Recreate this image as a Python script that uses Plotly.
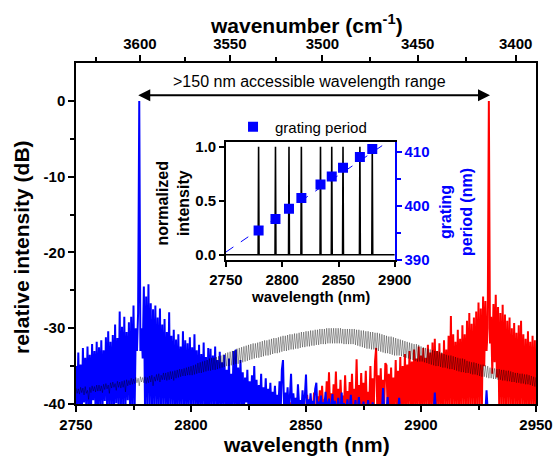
import numpy as np
import plotly.graph_objects as go

FONT = "Liberation Sans"
BLUE = "#0000FF"
RED = "#FF0000"

# ---------------- main spectrum data (dB) ----------------
STEP = 0.5
BLUE_START = 2750.0
blue_db = [
    -35.0, -41, -33.2, -40.5, -34.8, -42, -32.6, -39.8, -33.9, -41,
    -32.4, -40.2, -33.5, -41.5, -32.1, -39.5, -33.0, -40.8, -31.8, -41.2,
    -32.5, -40, -31.6, -41, -32.9, -39.6, -31.2, -40.5, -30.4, -41,
    -31.8, -40.2, -30.9, -41.4, -29.5, -39.9, -31.3, -40.6, -27.8, -41,
    -29.8, -40.3, -28.5, -41, -30.5, -39.5, -29.2, -40.8, -28.5, -41.2,
    -27.0, -40.5, -30.0, -33.0, -28.0, 0.0, -33.0, -30.0, -34.0, -24.5,
    -40.5, -25.8, -41, -24.2, -40, -26.7, -41.5, -27.5, -40.2, -27.0,
    -41, -28.6, -40.5, -27.4, -41, -29.5, -40, -28.8, -41.3, -30.5,
    -40.6, -27.9, -41, -31.0, -40, -30.2, -41.5, -31.5, -40.4, -30.8,
    -41, -32.4, -40.2, -30.4, -41, -31.6, -40.5, -32.0, -41.2, -31.2,
    -40, -32.5, -41, -30.8, -40.3, -32.9, -41, -32.2, -40.6, -33.4,
    -41, -31.9, -40.2, -33.8, -41.5, -32.6, -40.4, -32.7, -41, -33.6,
    -40, -32.4, -41.3, -34.2, -40.5, -33.1, -41, -34.5, -40.2, -33.5,
    -41, -35.5, -40.6, -34.0, -41, -36.0, -40.3, -33.0, -41, -32.8,
    -40.5, -35.2, -41, -34.2, -40, -35.8, -41.2, -36.5, -39.8, -35.5,
    -41, -37.0, -40.5, -36.2, -41, -35.0, -40.8, -36.8, -41, -37.5,
    -40.2, -36.0, -41.5, -37.8, -40, -36.6, -41, -38.0, -40.4, -37.2,
    -41, -38.4, -40.1, -37.6, -41, -38.8, -40.5, -37.0, -41, -35.5,
    -34.2, -41, -38.5, -40.3, -37.8, -41, -39.0, -36.0, -41, -38.6,
    -40.5, -39.2, -41, -37.4, -40.2, -39.5, -41, -38.2, -40.6, -39.0,
    -36.1, -41, -39.4, -40.4, -38.6, -41, -39.6, -40.2, -38.0, -37.2,
    -41, -39.7, -40.5, -38.9, -41, -39.8, -40.3, -38.4, -41, -40.0,
    -39.3, -41, -40.4, -38.7, -41, -39.6, -40.6, -41, -39.2, -40.8,
    -41, -38.5, -41, -39.9, -40.5, -41, -39.4, -41, -40.6, -38.8,
    -41, -40.3, -41, -39.5, -41, -40.7, -39.1, -41, -40.4, -41,
    -39.7, -41, -40.8, -41, -39.5, -41, -40.6, -41, -39.8, -41,
    -41,
]
blue_tail_wl = [2883, 2883.5, 2884, 2885, 2885.5, 2886, 2890, 2890.5, 2891,
                2905.5, 2906, 2906.5, 2928, 2928.5, 2929]
blue_tail_db = [-41, -37.9, -41, -41, -39.1, -41, -41, -39.2, -41,
                -41, -38.5, -41, -41, -38.2, -41]

RED_START = 2840.0
red_db = [
    -41, -41, -39.6, -41, -41, -41, -41, -39.8, -41, -41,
    -41, -41, -39.2, -41, -41, -41, -41, -39.5, -41, -41,
    -41, -38.8, -41, -41, -39.9, -41, -41, -38.5, -41, -41,
    -39.0, -41, -38.2, -41, -37.6, -41, -39.4, -41, -37.0, -40.5,
    -35.8, -41, -38.6, -41, -37.4, -40.2, -35.7, -41, -38.0, -41,
    -36.8, -40.6, -38.9, -41, -36.2, -40.3, -38.3, -41, -37.1, -40.5,
    -36.0, -41, -38.0, -40.2, -34.1, -41, -37.5, -40.6, -35.9, -41,
    -37.2, -40, -35.6, -41, -38.4, -40.4, -35.0, -41, -36.6, -40.1,
    -34.4, -32.6, -41, -36.2, -40.4, -35.3, -41, -36.8, -40.2, -34.6,
    -34.9, -41, -36.0, -40.5, -35.2, -41, -36.5, -40, -34.2, -41,
    -35.6, -40.3, -33.8, -41, -35.0, -40.6, -33.4, -41, -34.8, -40,
    -33.0, -41, -34.4, -40.4, -32.8, -41, -34.0, -40.2, -32.4, -41,
    -33.6, -40.5, -32.6, -41, -33.9, -40, -32.2, -41, -33.2, -40.4,
    -31.9, -41, -31.4, -40.2, -33.0, -41, -32.0, -40.5, -33.3, -41,
    -31.6, -40, -32.8, -41, -31.0, -40.3, -28.4, -41, -30.8, -40.2,
    -31.8, -41, -30.2, -40.5, -31.4, -41, -29.6, -40, -30.8, -41,
    -29.0, -40.4, -28.0, -41, -29.4, -40.2, -28.6, -41, -27.8, -40.5,
    -26.6, -41, -27.4, -40, -25.8, -35.0, -26.4, -33.0, -30.0, 0.0,
    -32.0, -28.5, -36.0, -26.8, -34.5, -25.6, -36.5, -27.2, -40.2, -28.0,
    -41, -26.9, -40.4, -28.2, -41, -29.0, -40, -28.6, -41, -30.0,
    -40.3, -29.3, -41, -30.6, -40.5, -29.6, -41, -29.0, -40.2, -30.8,
    -41, -31.4, -40.6, -30.4, -41, -31.8, -40.1, -31.0, -41, -31.6,
    -40.4,
]

# comb spectrum (fine oscillations): maxima at integer nm, minima half a nm later
COMB_START = 2750.0
comb_hi = [
    -37.9, -38.0, -37.8, -37.9, -37.7, -38.2, -37.8, -37.6, -37.7, -37.5,
    -37.5, -37.6, -37.4, -37.3, -37.5, -37.2, -37.1, -37.3, -37.0, -37.1,
    -37.0, -36.9, -36.8, -36.9, -36.6, -36.7, -36.5, -36.6, -36.4, -36.5,
    -36.4, -36.5, -36.3, -36.2, -36.4, -36.1, -36.0, -36.2, -35.9, -35.9,
    -35.8, -35.7, -35.7, -35.6, -35.5, -35.4, -35.4, -35.3, -35.2, -35.1,
    -35.0, -34.9, -34.8, -34.6, -34.5, -34.4, -34.3, -34.2, -34.0, -33.9,
    -33.9, -33.8, -33.7, -33.6, -33.5, -33.3, -33.2, -33.1, -33.0, -32.9,
    -32.7, -32.6, -32.5, -32.4, -32.3, -32.2, -32.1, -32.0, -32.0, -31.9,
    -31.8, -31.7, -31.6, -31.6, -31.5, -31.4, -31.3, -31.3, -31.2, -31.1,
    -31.0, -31.0, -30.9, -30.8, -30.8, -30.7, -30.7, -30.6, -30.5, -30.5,
    -30.4, -30.4, -30.3, -30.3, -30.2, -30.2, -30.1, -30.1, -30.1, -30.0,
    -30.0, -30.0, -30.0, -30.0, -30.0, -30.0, -30.1, -30.1, -30.1, -30.1,
    -30.1, -30.1, -30.2, -30.2, -30.3, -30.3, -30.4, -30.4, -30.5, -30.5,
    -30.6, -30.6, -30.7, -30.8, -30.9, -31.0, -31.1, -31.1, -31.2, -31.3,
    -31.4, -31.5, -31.6, -31.7, -31.8, -31.9, -32.0, -32.1, -32.1, -32.2,
    -32.4, -32.5, -32.6, -32.7, -32.8, -32.9, -33.0, -33.0, -33.1, -33.2,
    -33.4, -33.5, -33.6, -33.6, -33.7, -33.8, -33.9, -34.0, -34.0, -34.1,
    -34.3, -34.4, -34.5, -34.5, -34.6, -34.7, -34.8, -34.8, -34.9, -35.0,
    -35.2, -35.3, -35.3, -35.4, -35.4, -35.5, -35.5, -35.6, -35.6, -35.7,
    -35.8, -35.9, -35.9, -36.0, -36.0, -36.1, -36.1, -36.2, -36.3, -36.4,
    -36.5,
]
comb_lo = [
    -38.6, -38.7, -38.5, -38.8, -38.6, -39.4, -38.5, -38.3, -38.4, -38.3,
    -38.3, -38.5, -38.1, -38.0, -38.6, -37.9, -37.8, -38.2, -37.8, -37.9,
    -37.8, -38.4, -37.6, -37.5, -37.4, -37.3, -37.2, -37.6, -37.1, -37.2,
    -37.3, -37.2, -37.1, -37.6, -37.0, -36.9, -37.1, -36.8, -36.8, -36.9,
    -36.8, -36.7, -36.9, -36.6, -36.5, -36.4, -36.3, -36.3, -36.2, -36.2,
    -36.2, -36.1, -36.0, -35.9, -35.9, -35.8, -35.7, -35.6, -35.6, -35.5,
    -35.5, -35.4, -35.3, -35.2, -35.1, -35.0, -35.0, -34.9, -34.8, -34.7,
    -34.7, -34.6, -34.5, -34.4, -34.3, -34.2, -34.1, -34.0, -33.9, -33.9,
    -33.8, -33.7, -33.6, -33.6, -33.5, -33.4, -33.3, -33.3, -33.2, -33.1,
    -33.0, -33.0, -32.9, -32.8, -32.8, -32.7, -32.7, -32.6, -32.5, -32.5,
    -32.4, -32.4, -32.3, -32.3, -32.2, -32.2, -32.1, -32.1, -32.1, -32.0,
    -32.0, -32.0, -32.0, -32.0, -32.0, -32.0, -32.1, -32.1, -32.1, -32.1,
    -32.1, -32.2, -32.3, -32.4, -32.5, -32.6, -32.7, -32.7, -32.8, -32.8,
    -32.9, -33.0, -33.1, -33.2, -33.3, -33.3, -33.4, -33.5, -33.6, -33.6,
    -33.6, -33.7, -33.8, -33.9, -34.0, -34.1, -34.2, -34.3, -34.4, -34.4,
    -34.4, -34.5, -34.6, -34.7, -34.8, -34.9, -35.0, -35.0, -35.1, -35.2,
    -35.2, -35.3, -35.4, -35.4, -35.5, -35.6, -35.7, -35.8, -35.8, -35.9,
    -35.9, -36.0, -36.1, -36.1, -36.2, -36.3, -36.4, -36.4, -36.5, -36.6,
    -36.6, -36.7, -36.7, -36.8, -36.8, -36.9, -36.9, -37.0, -37.0, -37.1,
    -37.1, -37.2, -37.2, -37.3, -37.3, -37.4, -37.4, -37.5, -37.6, -37.7,
    -37.8,
]

# axis ticks
x_ticks = [2750, 2800, 2850, 2900, 2950]
y_tick_vals = [-40, -30, -20, -10, 0]
y_tick_text = ["-40", "-30", "-20", "-10", "0"]
wn_ticks = [3600, 3550, 3500, 3450, 3400]
wn_minor = [3625, 3575, 3525, 3475, 3425]

# arrow annotation data
range_start_nm = 2776.4
range_end_nm = 2930.0
range_arrow_db = 0.74

# ---------------- inset data ----------------
inset_peak_wl = [2779, 2794, 2806, 2817, 2834, 2844, 2854, 2869, 2880]
inset_peak_int = [1, 1, 1, 1, 1, 1, 1, 1, 1]
grating_period = [395.4, 397.5, 399.4, 401.4, 403.9, 405.4, 407.0, 409.0, 410.5]
fit_wl = [2750, 2900]
fit_period = [391.4, 412.7]
inset_x_ticks = [2750, 2800, 2850, 2900]
inset_range = [2750, 2900]

# ---------------- build series ----------------
blue_wl = BLUE_START + STEP * np.arange(len(blue_db))
blue_x = np.concatenate([blue_wl, blue_tail_wl])
blue_y = np.concatenate([blue_db, blue_tail_db])
red_wl = RED_START + STEP * np.arange(len(red_db))

comb_base = COMB_START + np.arange(len(comb_hi))
comb_x = np.ravel(np.column_stack([comb_base, comb_base + STEP]))
comb_y = np.ravel(np.column_stack([comb_hi, comb_lo]))

ins_x = [inset_range[0]]
ins_y = [0]
for p, h in zip(inset_peak_wl, inset_peak_int):
    ins_x += [p - 0.4, p, p + 0.4]
    ins_y += [0, h, 0]
ins_x.append(inset_range[1])
ins_y.append(0)

fig = go.Figure()
fig.add_trace(go.Scatter(x=red_wl, y=red_db, mode="lines",
                         line=dict(color=RED, width=2.0, simplify=False), showlegend=False))
fig.add_trace(go.Scatter(x=blue_x, y=blue_y, mode="lines",
                         line=dict(color=BLUE, width=2.0, simplify=False), showlegend=False))
fig.add_trace(go.Scatter(x=comb_x, y=comb_y, mode="lines", xaxis="x2", yaxis="y",
                         line=dict(color="rgba(0,0,0,0.45)", width=0.8, simplify=False),
                         showlegend=False))

# inset traces
fig.add_trace(go.Scatter(x=ins_x, y=ins_y, mode="lines", xaxis="x3", yaxis="y3",
                         line=dict(color="black", width=1.6, simplify=False), showlegend=False))
fig.add_trace(go.Scatter(x=fit_wl, y=fit_period, mode="lines", xaxis="x3", yaxis="y4",
                         line=dict(color=BLUE, width=1, dash="dash"), showlegend=False))
fig.add_trace(go.Scatter(x=inset_peak_wl, y=grating_period, mode="markers",
                         xaxis="x3", yaxis="y4", name="grating period",
                         marker=dict(symbol="square", size=10, color=BLUE),
                         showlegend=True))

tick_font = dict(family=FONT, size=15, color="black", weight="bold")
common = dict(showline=True, linecolor="black", linewidth=1.5, ticks="outside",
              tickwidth=1.5, tickcolor="black", showgrid=False, zeroline=False,
              automargin=False)

fig.update_layout(
    width=558, height=461,
    margin=dict(l=76, r=22, t=63, b=57, autoexpand=False),
    paper_bgcolor="white", plot_bgcolor="white",
    font=dict(family=FONT, color="black"),
    xaxis=dict(domain=[0, 1], range=[2750, 2950], tickvals=x_ticks, ticklen=6,
               tickfont=tick_font, mirror=False,
               minor=dict(dtick=25, tick0=2750, ticks="outside", ticklen=4,
                          tickwidth=1.5, tickcolor="black"), **common),
    xaxis2=dict(overlaying="x", side="top", anchor="y", range=[2750, 2950],
                tickmode="array", tickvals=[1e7 / w for w in wn_ticks],
                ticktext=[str(w) for w in wn_ticks], ticklen=6, tickfont=tick_font,
                minor=dict(tickmode="array", tickvals=[1e7 / w for w in wn_minor],
                           ticks="outside", ticklen=4, tickwidth=1.5, tickcolor="black"),
                **common),
    yaxis=dict(domain=[0, 1], range=[-40, 5], tickmode="array", tickvals=y_tick_vals,
               ticktext=y_tick_text, ticklen=6, tickfont=tick_font, mirror=True,
               minor=dict(tickmode="array", tickvals=[-35, -25, -15, -5],
                          ticks="outside", ticklen=4, tickwidth=1.5, tickcolor="black"),
               **common),
    xaxis3=dict(domain=[0.326, 0.693], anchor="y3", range=inset_range,
                tickvals=inset_x_ticks, ticklen=5, tickfont=tick_font, mirror=True,
                **common),
    yaxis3=dict(domain=[0.422, 0.767], anchor="x3", range=[-0.05, 1.04],
                tickvals=[0, 0.5, 1.0], ticktext=["0.0", "0.5", "1.0"], ticklen=5,
                tickfont=tick_font, mirror=False, **common),
    yaxis4=dict(overlaying="y3", anchor="x3", side="right", range=[389.9, 411.7],
                showline=True, linecolor=BLUE, linewidth=1.5, ticks="outside",
                tickwidth=1.5, tickcolor=BLUE, ticklen=5, showgrid=False, zeroline=False,
                automargin=False, tickvals=[390, 400, 410],
                tickfont=dict(family=FONT, size=15, color=BLUE, weight="bold"),
                minor=dict(tickmode="array", tickvals=[395, 405], ticks="outside",
                           ticklen=4, tickwidth=1.5, tickcolor=BLUE)),
    legend=dict(x=0.337, y=0.812, xanchor="left", yanchor="middle", itemwidth=34,
                bgcolor="rgba(0,0,0,0)", font=dict(family=FONT, size=15, color="black")),
    showlegend=True,
)

title_font = dict(family=FONT, size=21, color="black", weight="bold")
inset_title_font = dict(family=FONT, size=15, color="black", weight="bold")
annotations = [
    dict(text="wavelength (nm)", xref="paper", yref="paper", x=0.5, y=-0.12,
         xanchor="center", yanchor="middle", showarrow=False, font=title_font),
    dict(text="wavenumber (cm<sup>-1</sup>)", xref="paper", yref="paper", x=0.5, y=1.115,
         xanchor="center", yanchor="middle", showarrow=False, font=title_font),
    dict(text="relative intensity (dB)", xref="paper", yref="paper", x=-0.117, y=0.461,
         xanchor="center", yanchor="middle", textangle=-90, showarrow=False,
         font=title_font),
    dict(text=">150 nm accessible wavelength range", xref="x", yref="y",
         x=2851.7, y=2.5, xanchor="center", yanchor="middle", showarrow=False,
         font=dict(family=FONT, size=16, color="black")),
    dict(text="", xref="x", yref="y", x=range_end_nm, y=range_arrow_db,
         axref="x", ayref="y", ax=range_start_nm, ay=range_arrow_db,
         showarrow=True, arrowhead=2, startarrowhead=2, arrowside="end+start",
         arrowwidth=2, arrowsize=1.2, startarrowsize=1.2, arrowcolor="black"),
    dict(text="wavelength (nm)", xref="paper", yref="paper", x=0.509, y=0.314,
         xanchor="center", yanchor="middle", showarrow=False, font=inset_title_font),
    dict(text="normalized<br>intensity", xref="paper", yref="paper", x=0.21, y=0.587,
         xanchor="center", yanchor="middle", textangle=-90, showarrow=False,
         font=dict(family=FONT, size=16, color="black", weight="bold")),
    dict(text="grating<br>period (nm)", xref="paper", yref="paper", x=0.826, y=0.563,
         xanchor="center", yanchor="middle", textangle=-90, showarrow=False,
         font=dict(family=FONT, size=16, color=BLUE, weight="bold")),
]
fig.update_layout(annotations=annotations)

fig.write_html("out.html")
